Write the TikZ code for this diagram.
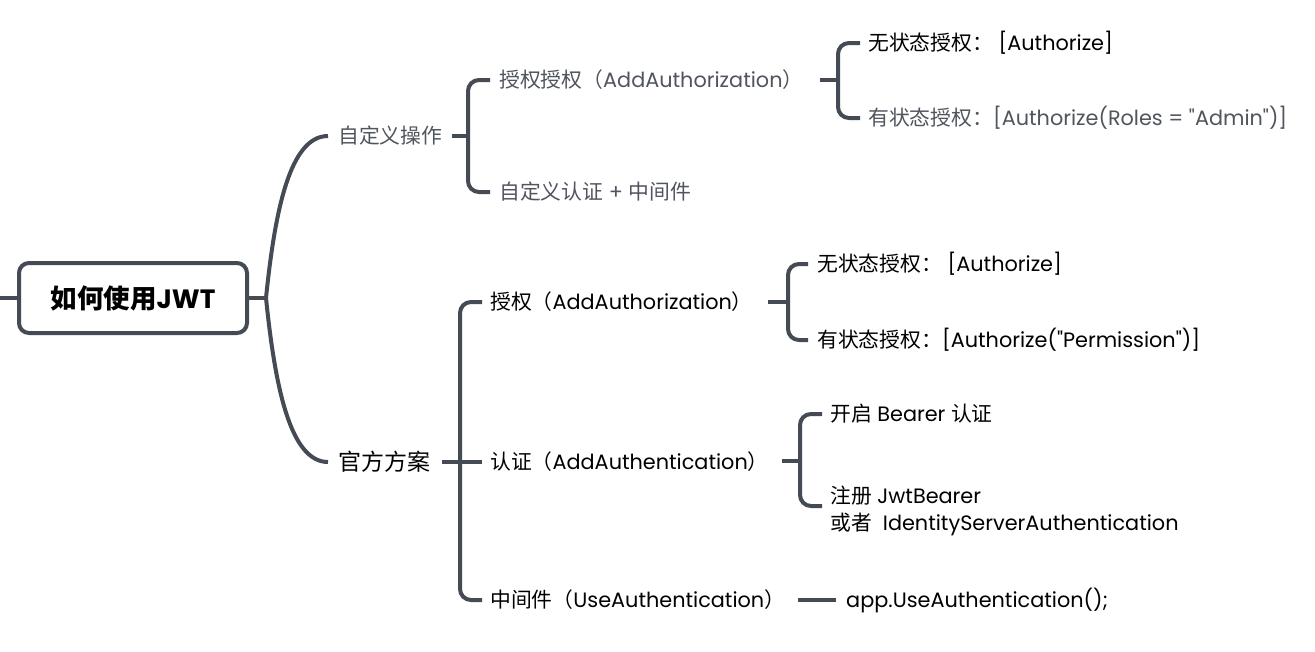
\documentclass[tikz,border=0pt]{standalone}
\usepackage{fontspec}
\newfontfamily\lat{Poppins}
\newfontfamily\cjk{Noto Sans CJK SC}
\newcommand{\zh}[1]{{\cjk #1}}
\definecolor{lc}{HTML}{454B54}
\definecolor{gc}{HTML}{50555E}
\begin{document}
\begin{tikzpicture}[x=1pt,y=-1pt,
  conn/.style={draw=lc, line width=4pt, rounded corners=11pt},
  txt/.style={anchor=west, inner sep=0pt, font=\lat\fontsize{20.8}{27}\selectfont, text=black},
  gtxt/.style={txt, text=gc},
  rootbox/.style={draw=lc, line width=4pt, rounded corners=10pt, minimum width=228pt, minimum height=70pt, inner sep=0pt, fill=white,
    font=\lat\fontsize{26.5}{30}\selectfont\bfseries}]
\useasboundingbox (0,0) rectangle (1315,651);
\fill[white] (0,0) rectangle (1315,651);

% root
\node[rootbox] (root) at (133,298) {\zh{如何使用}JWT};
\coordinate (lstub) at (0,298);
\coordinate (rj) at (266,298);

% level 1
\node[gtxt] (a) at (338,136) {\zh{自定义操作}};
\node[txt, font=\lat\fontsize{23}{27}\selectfont] (b) at (338,462) {\zh{官方方案}};

% level 2 (custom)
\node[gtxt] (a1) at (499,80) {\zh{授权授权（}AddAuthorization\zh{）}};
\node[gtxt] (a2) at (499,192) {\zh{自定义认证} + \zh{中间件}};
\node[txt] (a11) at (868,43) {\zh{无状态授权：} [Authorize]};
\node[gtxt] (a12) at (868,118) {\zh{有状态授权：}[Authorize(Roles = "Admin")]};

% level 2 (official)
\node[txt] (b1) at (490,302) {\zh{授权（}AddAuthorization\zh{）}};
\node[txt] (b2) at (490,462) {\zh{认证（}AddAuthentication\zh{）}};
\node[txt] (b3) at (490,600) {\zh{中间件（}UseAuthentication\zh{）}};
\node[txt] (b11) at (817,264) {\zh{无状态授权：} [Authorize]};
\node[txt] (b12) at (817,340) {\zh{有状态授权：}[Authorize("Permission")]};
\node[txt] (b21) at (830,414) {\zh{开启} Bearer \zh{认证}};
\node[txt, align=left] (b22) at (830,510.5) {\zh{注册} JwtBearer\\\zh{或者}\ \ IdentityServerAuthentication};
\node[txt] (b31) at (846,600) {app.UseAuthentication();};

% junction coordinates
\coordinate (ao) at (452,136); \coordinate (aj) at (468,136);
\coordinate (a1o) at (820,80); \coordinate (a1j) at (838,80);
\coordinate (bo) at (442,462); \coordinate (bj) at (460,462);
\coordinate (b1o) at (768,302); \coordinate (b1j) at (788,302);
\coordinate (b2o) at (782,461); \coordinate (b2j) at (800,461);
\coordinate (b22in) at (822,506);
\coordinate (b3o) at (798,600);

% connectors
\draw[conn] (lstub) -- (root.west);
\draw[conn] (root.east) -- (rj);
\draw[draw=lc, line width=4pt] (rj) .. controls (275,210) and (290,136) .. ([xshift=-10pt]a.west);
\draw[draw=lc, line width=4pt] (rj) .. controls (275,386) and (290,462) .. ([xshift=-10pt]b.west);

\draw[conn] (ao) -- (aj);
\draw[conn] ([xshift=-9pt]a1.west) -| (aj) |- ([xshift=-9pt]a2.west);
\draw[conn] (a1o) -- (a1j);
\draw[conn] ([xshift=-8pt]a11.west) -| (a1j) |- ([xshift=-8pt]a12.west);

\draw[conn] (bo) -- (bj);
\draw[conn] ([xshift=-8pt]b1.west) -| (bj) |- ([xshift=-8pt]b3.west);
\draw[conn] (bj) -- ([xshift=-8pt]b2.west);
\draw[conn] (b1o) -- (b1j);
\draw[conn] ([xshift=-9pt]b11.west) -| (b1j) |- ([xshift=-9pt]b12.west);
\draw[conn] (b2o) -- (b2j);
\draw[conn] ([xshift=-8pt]b21.west) -| (b2j) |- (b22in);
\draw[conn] (b3o) -- ([xshift=-10pt]b31.west);
\end{tikzpicture}
\end{document}
